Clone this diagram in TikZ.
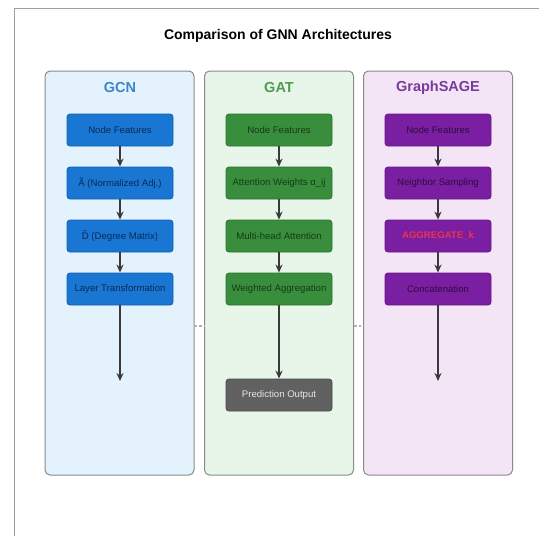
\documentclass[tikz,border=0pt]{standalone}
\usepackage{fontspec}
\setmainfont{Liberation Sans}
\usetikzlibrary{arrows.meta,calc}

\definecolor{framegray}{HTML}{9E9E9E}
\definecolor{panelborder}{HTML}{8A8A8A}
\definecolor{gcnbg}{HTML}{E3F2FD}
\definecolor{gatbg}{HTML}{E8F5E9}
\definecolor{sagebg}{HTML}{F3E5F5}
\definecolor{gcnfill}{HTML}{1976D2}
\definecolor{gcnline}{HTML}{1460AE}
\definecolor{gcntext}{HTML}{0B2A55}
\definecolor{gcntitle}{HTML}{3E86C8}
\definecolor{gatfill}{HTML}{388E3C}
\definecolor{gatline}{HTML}{2C7430}
\definecolor{gattext}{HTML}{163A18}
\definecolor{gattitle}{HTML}{4E9C52}
\definecolor{sagefill}{HTML}{7B1FA2}
\definecolor{sageline}{HTML}{641884}
\definecolor{sagetext}{HTML}{2E0C40}
\definecolor{sagetitle}{HTML}{7A3A9C}
\definecolor{aggred}{HTML}{E8344E}
\definecolor{outfill}{HTML}{616161}
\definecolor{outline}{HTML}{4A4A4A}
\definecolor{outtext}{HTML}{E6E6E6}
\definecolor{arrowgray}{HTML}{3A3A3A}
\definecolor{linkgray}{HTML}{B0B0B0}

\tikzset{
  panel/.style={draw=panelborder, line width=1pt, rounded corners=5pt,
    minimum width=149pt, minimum height=404pt, inner sep=0pt},
  paneltitle/.style={font=\fontsize{14.5}{17}\selectfont\bfseries},
  stepbox/.style={rounded corners=3pt, line width=0.8pt,
    minimum width=106pt, minimum height=32pt, inner sep=0pt,
    font=\fontsize{9.6}{11}\selectfont},
  gcnbox/.style={stepbox, fill=gcnfill, draw=gcnline, text=gcntext},
  gatbox/.style={stepbox, fill=gatfill, draw=gatline, text=gattext},
  sagebox/.style={stepbox, fill=sagefill, draw=sageline, text=sagetext},
  outbox/.style={stepbox, fill=outfill, draw=outline, text=outtext},
  flow/.style={draw=arrowgray, line width=1.5pt,
    -{Stealth[length=8pt,width=7pt]}},
  panellink/.style={draw=linkgray, line width=1.2pt, dash pattern=on 2.5pt off 2pt}
}

\begin{document}
\begin{tikzpicture}[x=1pt, y=-1pt]
  \useasboundingbox (0,0) rectangle (539,536);
  \fill[white] (0,0) rectangle (539,536);

  % outer frame (top and left edges)
  \coordinate (ftl) at (14,8);
  \coordinate (ftr) at (539,8);
  \coordinate (fbl) at (14,536);
  \draw[framegray, line width=1pt] (ftr) -- (ftl) -- (fbl);

  % heading
  \node[font=\fontsize{14}{17}\selectfont\bfseries] (title) at (278,36)
    {Comparison of GNN Architectures};

  % columns
  \node[panel, fill=gcnbg]  (gcnp)  at (119.5,273) {};
  \node[panel, fill=gatbg]  (gatp)  at (279,273) {};
  \node[panel, fill=sagebg] (sagep) at (438,273) {};

  \node[paneltitle, text=gcntitle]  (gcnt)  at (120,88) {GCN};
  \node[paneltitle, text=gattitle]  (gatt)  at (279,88) {GAT};
  \node[paneltitle, text=sagetitle] (saget) at (438,88) {GraphSAGE};

  % faint links between neighbouring columns
  \draw[panellink] ($(gcnp.east)+(0,53)$) -- ($(gatp.west)+(0,53)$);
  \draw[panellink] ($(gatp.east)+(0,53)$) -- ($(sagep.west)+(0,53)$);

  % GCN pipeline
  \node[gcnbox] (g1) at (120,130) {Node Features};
  \node[gcnbox] (g2) at (120,183) {Ã (Normalized Adj.)};
  \node[gcnbox] (g3) at (120,236) {D̃ (Degree Matrix)};
  \node[gcnbox] (g4) at (120,289) {Layer Transformation};
  \coordinate (gend) at (120,381);

  % GAT pipeline
  \node[gatbox] (a1) at (279,130) {Node Features};
  \node[gatbox] (a2) at (279,183) {Attention Weights α\_ij};
  \node[gatbox] (a3) at (279,236) {Multi-head Attention};
  \node[gatbox] (a4) at (279,289) {Weighted Aggregation};
  \node[outbox] (a5) at (279,395) {Prediction Output};

  % GraphSAGE pipeline
  \node[sagebox] (s1) at (438,130) {Node Features};
  \node[sagebox] (s2) at (438,183) {Neighbor Sampling};
  \node[sagebox, text=aggred, font=\fontsize{9.6}{11}\selectfont\bfseries]
    (s3) at (438,236) {AGGREGATE\_k};
  \node[sagebox] (s4) at (438,289) {Concatenation};
  \coordinate (send) at (438,381);

  % arrows
  \draw[flow] (g1) -- (g2);
  \draw[flow] (g2) -- (g3);
  \draw[flow] (g3) -- (g4);
  \draw[flow] (g4) -- (gend);

  \draw[flow] (a1) -- (a2);
  \draw[flow] (a2) -- (a3);
  \draw[flow] (a3) -- (a4);
  \draw[flow] (a4) -- (a5);

  \draw[flow] (s1) -- (s2);
  \draw[flow] (s2) -- (s3);
  \draw[flow] (s3) -- (s4);
  \draw[flow] (s4) -- (send);
\end{tikzpicture}
\end{document}
